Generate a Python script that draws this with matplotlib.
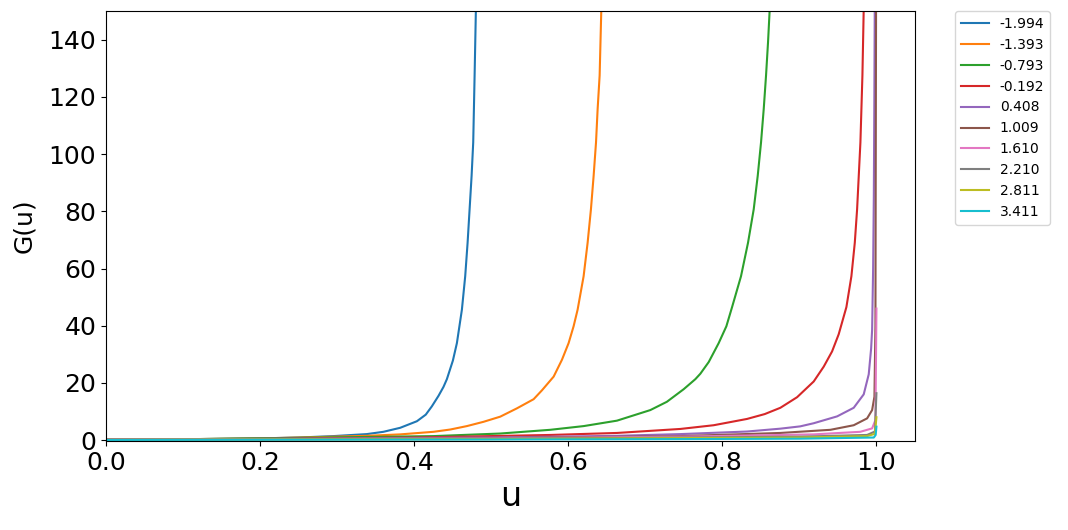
import matplotlib
matplotlib.use("Agg")
import matplotlib.pyplot as plt

labels = ["-1.994", "-1.393", "-0.793", "-0.192", "0.408",
          "1.009", "1.610", "2.210", "2.811", "3.411"]

u_blue = [0.0, 0.1, 0.2, 0.25, 0.295, 0.3385, 0.36, 0.3818, 0.4035, 0.415,
          0.4229, 0.4316, 0.438, 0.4424, 0.4502, 0.4554, 0.4619, 0.4662,
          0.4693, 0.4719, 0.4745, 0.4766, 0.4784, 0.4801, 0.481]
g_blue = [0.2, 0.3, 0.6, 0.9, 1.4, 2.1, 2.9, 4.3, 6.6, 8.9,
          11.8, 15.5, 18.6, 21.3, 27.8, 33.9, 45.6, 57.3,
          69.0, 80.7, 92.4, 104.1, 127.5, 150.9, 165.0]

u_orange = [0.0, 0.1, 0.2, 0.252, 0.3385, 0.3818, 0.425, 0.4468, 0.4684, 0.49,
            0.5117, 0.5333, 0.555, 0.5658, 0.581, 0.5918, 0.6004, 0.6069,
            0.6121, 0.6199, 0.6251, 0.6294, 0.6329, 0.636, 0.6381, 0.6407,
            0.6429, 0.644]
g_orange = [0.2, 0.3, 0.6, 0.9, 1.5, 2.0, 2.9, 3.7, 4.9, 6.4,
            8.2, 11.1, 14.3, 17.4, 22.2, 28.1, 33.9, 39.8,
            45.6, 57.3, 69.0, 80.7, 92.4, 104.1, 115.8, 127.5,
            150.9, 165.0]

u_green = [0.0, 0.1, 0.252, 0.425, 0.5117, 0.5766, 0.62, 0.6632, 0.7065, 0.728,
           0.7498, 0.7649, 0.7714, 0.7823, 0.7952, 0.8052, 0.8126, 0.8242,
           0.8333, 0.8407, 0.8459, 0.8502, 0.8537, 0.8567, 0.8593, 0.8615,
           0.863]
g_green = [0.2, 0.3, 0.8, 1.4, 2.3, 3.6, 4.9, 6.8, 10.5, 13.4,
           17.8, 21.3, 23.2, 27.3, 33.9, 39.8, 46.5, 57.3,
           69.0, 80.7, 92.4, 104.1, 115.8, 127.5, 139.2, 150.9,
           165.0]

u_red = [0.0, 0.2, 0.4, 0.5766, 0.6632, 0.7455, 0.7887, 0.832, 0.855, 0.8753,
         0.897, 0.9186, 0.9316, 0.9424, 0.951, 0.961, 0.9675, 0.9719, 0.9749,
         0.9792, 0.9818, 0.9835, 0.985]
g_red = [0.2, 0.4, 0.9, 1.8, 2.5, 3.9, 5.2, 7.4, 9.1, 11.3,
         15.0, 20.5, 25.7, 31.0, 37.0, 46.5, 57.3, 69.0, 80.7,
         104.1, 127.5, 150.9, 170.0]

u_purple = [0.0, 0.25, 0.5, 0.6632, 0.7455, 0.832, 0.8753, 0.901, 0.9186, 0.949,
            0.9705, 0.9835, 0.99, 0.9931, 0.9944, 0.9957, 0.9966, 0.9973,
            0.9978, 0.998]
g_purple = [0.2, 0.5, 0.9, 1.5, 2.1, 3.0, 4.0, 4.8, 5.9, 8.3,
            11.3, 16.0, 23.0, 32.0, 38.6, 60.0, 85.0, 120.0,
            150.0, 170.0]

u_brown = [0.0, 0.25, 0.5, 0.7455, 0.8753, 0.9403, 0.9705, 0.9879, 0.9944,
           0.9974, 0.9987, 0.9995, 1.0]
g_brown = [0.2, 0.4, 0.7, 1.4, 2.5, 3.6, 5.2, 7.6, 10.5,
           15.2, 40.0, 150.0, 200.0]

u_pink = [0.0, 0.25, 0.5, 0.7455, 0.9186, 0.979, 0.9944, 0.9987, 1.0]
g_pink = [0.2, 0.35, 0.6, 1.2, 2.0, 2.9, 4.1, 7.0, 46.0]

u_gray = [0.0, 0.5, 0.7455, 0.9, 0.9879, 0.998, 1.0]
g_gray = [0.15, 0.5, 0.9, 1.2, 1.8, 3.0, 16.4]

u_olive = [0.0, 0.5, 0.7455, 0.9, 0.9879, 0.998, 1.0]
g_olive = [0.1, 0.35, 0.7, 0.9, 1.4, 2.2, 8.0]

u_cyan = [0.0, 0.5, 0.7455, 0.9, 0.9966, 0.999, 1.0]
g_cyan = [0.05, 0.2, 0.35, 0.5, 0.9, 1.8, 4.7]

series = [(u_blue, g_blue), (u_orange, g_orange), (u_green, g_green),
          (u_red, g_red), (u_purple, g_purple), (u_brown, g_brown),
          (u_pink, g_pink), (u_gray, g_gray), (u_olive, g_olive),
          (u_cyan, g_cyan)]

fig = plt.figure(figsize=(10.68, 5.30), dpi=100)
ax = fig.add_axes([0.0993, 0.168, 0.7574, 0.811])
for (u, g), lab in zip(series, labels):
    ax.plot(u, g, label=lab, linewidth=1.5)

ax.set_xlim(0, 1.05)
ax.set_ylim(-0.3, 150)
ax.set_xlabel("u", fontsize=24)
ax.set_ylabel("G(u)", fontsize=18, labelpad=9)
ax.tick_params(axis="both", labelsize=18)
ax.legend(bbox_to_anchor=(1.05, 1), loc="upper left", borderaxespad=0, fontsize=10)

fig.savefig("out.png", dpi=100)
